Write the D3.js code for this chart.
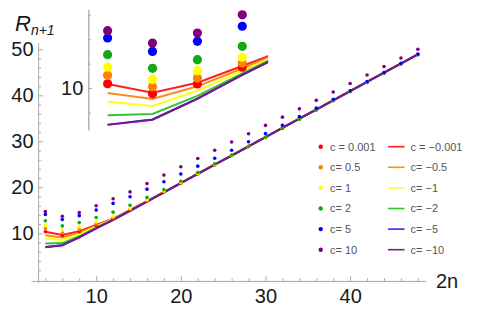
<!DOCTYPE html>
<html>
<head>
<meta charset="utf-8">
<script src="https://cdn.jsdelivr.net/npm/d3@7"></script>
<style>
  body { margin: 0; background: #fff; }
  svg { font-family: "Liberation Sans", Arial, sans-serif; }
  .axis path, .axis line { stroke: #a8a8a8; }
  .axis text { fill: #1a1a1a; font-size: 20px; }
  .legend text { fill: #555; font-size: 11px; }
</style>
</head>
<body>
<script>
// 2n values along the x axis
var twoN = [4, 6, 8, 10, 12, 14, 16, 18, 20, 22, 24, 26, 28, 30, 32, 34, 36, 38, 40, 42, 44, 46, 48];

// points, c > 0
var ptRed    = [10.35, 9.53, 10.33, 11.70, 13.15, 15.05, 17.0, 18.95, 20.9, 22.9, 24.85, 26.85, 28.85, 30.85, 32.85, 34.85, 36.85, 38.85, 40.85, 42.85, 44.85, 46.85, 48.85];
var ptOrange = [11.04, 10.11, 10.82, 12.05, 13.4, 15.25, 17.15, 19.05, 21.0, 22.95, 24.9, 26.9, 28.85, 30.85, 32.85, 34.85, 36.85, 38.85, 40.85, 42.85, 44.85, 46.85, 48.85];
var ptYellow = [11.72, 10.71, 11.42, 12.52, 13.7, 15.45, 17.3, 19.2, 21.1, 23.0, 24.95, 26.9, 28.85, 30.85, 32.85, 34.85, 36.85, 38.85, 40.85, 42.85, 44.85, 46.85, 48.85];
var ptGreen  = [12.73, 11.61, 12.32, 13.42, 14.6, 16.1, 17.8, 19.5, 21.3, 23.2, 25.1, 27.0, 28.9, 30.85, 32.8, 34.8, 36.8, 38.8, 40.8, 42.8, 44.8, 46.8, 48.8];
var ptBlue   = [14.10, 13.0, 13.83, 15.06, 16.5, 17.95, 19.6, 21.2, 22.9, 24.6, 26.3, 28.05, 29.9, 31.7, 33.5, 35.35, 37.2, 39.15, 41.0, 43.0, 44.95, 46.95, 48.95];
var ptPurple = [14.70, 13.69, 14.50, 16.0, 17.5, 19.0, 20.8, 22.65, 24.45, 26.25, 28.05, 29.85, 31.65, 33.45, 35.25, 37.05, 38.9, 40.7, 42.55, 44.4, 46.25, 48.1, 50.0];

// lines, c < 0
var lnRed    = [10.33, 9.62, 10.43, 11.8, 13.2, 15.06, 17.0, 18.98, 20.96, 22.95, 24.94, 26.93, 28.92, 30.92, 32.92, 34.92, 36.92, 38.92, 40.92, 42.92, 44.92, 46.92, 48.92];
var lnOrange = [9.59, 9.10, 10.14, 11.6, 13.12, 15.03, 16.97, 18.95, 20.94, 22.93, 24.92, 26.92, 28.91, 30.91, 32.91, 34.91, 36.91, 38.91, 40.91, 42.91, 44.91, 46.91, 48.91];
var lnYellow = [8.88, 8.53, 9.78, 11.42, 13.05, 15.0, 16.95, 18.93, 20.92, 22.92, 24.91, 26.91, 28.9, 30.9, 32.9, 34.9, 36.9, 38.9, 40.9, 42.9, 44.9, 46.9, 48.9];
var lnGreen  = [7.76, 7.87, 9.35, 11.2, 13.0, 14.95, 16.92, 18.91, 20.9, 22.9, 24.9, 26.9, 28.9, 30.9, 32.9, 34.9, 36.9, 38.9, 40.9, 42.9, 44.9, 46.9, 48.9];
var lnBlue   = [7.0, 7.42, 9.13, 11.08, 12.91, 14.9, 16.9, 18.9, 20.9, 22.9, 24.9, 26.9, 28.9, 30.9, 32.9, 34.9, 36.9, 38.9, 40.9, 42.9, 44.9, 46.9, 48.9];
var lnPurple = [6.98, 7.4, 9.12, 11.07, 12.9, 14.9, 16.9, 18.9, 20.9, 22.9, 24.9, 26.9, 28.9, 30.9, 32.9, 34.9, 36.9, 38.9, 40.9, 42.9, 44.9, 46.9, 48.9];

var pointLabels = ["c = 0.001", "c= 0.5", "c= 1", "c= 2", "c= 5", "c= 10"];
var lineLabels = ["c = \u22120.001", "c= \u22120.5", "c= \u22121", "c= \u22122", "c= \u22125", "c= \u221210"];

var xTicks = [10, 20, 30, 40];
var xMinor = [4, 6, 8, 12, 14, 16, 18, 22, 24, 26, 28, 32, 34, 36, 38, 42, 44, 46, 48];
var yTicks = [10, 20, 30, 40, 50];
var yMinor = [2, 4, 6, 8, 12, 14, 16, 18, 22, 24, 26, 28, 32, 34, 36, 38, 42, 44, 46, 48];
var insetTicks = [10];
var insetMinor = [8, 12, 14, 16];

var ptColors = ["#ff0000", "#ff7f00", "#ffff00", "#14a814", "#0000ff", "#800080"];
var lnColors = ["#ff2020", "#ff8a1a", "#ffff1a", "#33c433", "#2a2aff", "#7a1a8a"];

var points = [ptRed, ptOrange, ptYellow, ptGreen, ptBlue, ptPurple];
var lines = [lnRed, lnOrange, lnYellow, lnGreen, lnBlue, lnPurple];

var width = 479, height = 313;

var svg = d3.select("body").append("svg")
  .attr("width", width)
  .attr("height", height);

// main plot
var x = d3.scaleLinear().domain([2.3, 48.9]).range([31, 425.5]);
var y = d3.scaleLinear().domain([-0.35, 51.3]).range([280.9, 43.3]);
var yAxisAt = x(3.2), xAxisAt = y(-0.35);

svg.append("g").attr("class", "axis")
  .attr("transform", "translate(0," + xAxisAt + ")")
  .call(d3.axisBottom(x).tickValues(xTicks).tickSizeInner(-4.5).tickSizeOuter(0).tickPadding(8));
svg.append("g").attr("class", "axis")
  .attr("transform", "translate(0," + xAxisAt + ")")
  .call(d3.axisBottom(x).tickValues(xMinor).tickSizeInner(-2.5).tickSizeOuter(0).tickFormat(""))
  .select(".domain").remove();

svg.append("g").attr("class", "axis")
  .attr("transform", "translate(" + yAxisAt + ",0)")
  .call(d3.axisLeft(y).tickValues(yTicks).tickSizeInner(-4.5).tickSizeOuter(0).tickPadding(5))
  .select(".domain").attr("d", "M0," + y(-0.8) + "V" + y(51.3));
svg.append("g").attr("class", "axis")
  .attr("transform", "translate(" + yAxisAt + ",0)")
  .call(d3.axisLeft(y).tickValues(yMinor).tickSizeInner(-2.5).tickSizeOuter(0).tickFormat(""))
  .select(".domain").remove();

svg.selectAll(".axis text").attr("font-family", "Liberation Sans, Arial, sans-serif");

svg.append("text")
  .attr("x", 436).attr("y", 287.5)
  .attr("font-size", 20).attr("fill", "#1a1a1a")
  .text("2n");

var ylab = svg.append("text")
  .attr("x", 15).attr("y", 30.5)
  .attr("font-size", 22).attr("font-style", "italic").attr("fill", "#1a1a1a");
ylab.append("tspan").text("R");
ylab.append("tspan").attr("font-size", 14).attr("dy", 4).text("n+1");

var line = d3.line()
  .x(function(d, i) { return x(twoN[i]); })
  .y(function(d) { return y(d); });

svg.append("g").selectAll("path")
  .data(lines)
  .enter().append("path")
  .attr("d", line)
  .attr("fill", "none")
  .attr("stroke", function(d, i) { return lnColors[i]; })
  .attr("stroke-width", 2);

// red first, purple last, so the later ones sit on top
points.forEach(function(series, k) {
  svg.append("g").selectAll("circle")
    .data(series)
    .enter().append("circle")
    .attr("cx", function(d, i) { return x(twoN[i]); })
    .attr("cy", function(d) { return y(d); })
    .attr("r", 1.8)
    .attr("fill", ptColors[k]);
});

// inset
var ix = d3.scaleLinear().domain([3.14, 11.15]).range([88.3, 268.1]);
var iy = d3.scaleLinear().domain([6.56, 16.45]).range([130, 9.3]);

svg.append("clipPath").attr("id", "insetclip")
  .append("rect").attr("x", ix(3.14)).attr("y", 0).attr("width", ix(11.15) - ix(3.14)).attr("height", 140);

var iaxis = svg.append("g").attr("class", "axis")
  .attr("transform", "translate(" + ix(3.14) + ",0)")
  .call(d3.axisLeft(iy).tickValues(insetTicks).tickSizeInner(-4).tickSizeOuter(0).tickPadding(5));
iaxis.selectAll("text").attr("font-size", 14).attr("fill", "#333");
iaxis.select(".domain").attr("stroke-width", 1.3);
svg.append("g").attr("class", "axis")
  .attr("transform", "translate(" + ix(3.14) + ",0)")
  .call(d3.axisLeft(iy).tickValues(insetMinor).tickSizeInner(-2.5).tickSizeOuter(0).tickFormat(""))
  .select(".domain").remove();

var iline = d3.line()
  .x(function(d, i) { return ix(twoN[i]); })
  .y(function(d) { return iy(d); });

svg.append("g").attr("clip-path", "url(#insetclip)")
  .selectAll("path")
  .data(lines)
  .enter().append("path")
  .attr("d", iline)
  .attr("fill", "none")
  .attr("stroke", function(d, i) { return lnColors[i]; })
  .attr("stroke-width", 2);

points.forEach(function(series, k) {
  svg.append("g").selectAll("circle")
    .data(series.filter(function(d, i) { return twoN[i] <= 10; }))
    .enter().append("circle")
    .attr("cx", function(d, i) { return ix(twoN[i]); })
    .attr("cy", function(d) { return iy(d); })
    .attr("r", 4.6)
    .attr("fill", ptColors[k]);
});

// legend
var legend = svg.append("g").attr("class", "legend");
var rowY = d3.scaleLinear().domain([0, 5]).range([146.7, 249.7]);

pointLabels.forEach(function(t, i) {
  legend.append("circle").attr("cx", 320.7).attr("cy", rowY(i)).attr("r", 2.2).attr("fill", ptColors[i]);
  legend.append("text").attr("x", 330).attr("y", rowY(i)).attr("dy", "0.36em").text(t);
});
lineLabels.forEach(function(t, i) {
  legend.append("line").attr("x1", 388).attr("x2", 404.5).attr("y1", rowY(i)).attr("y2", rowY(i))
    .attr("stroke", lnColors[i]).attr("stroke-width", 1.6);
  legend.append("text").attr("x", 410.5).attr("y", rowY(i)).attr("dy", "0.36em").text(t);
});
</script>
</body>
</html>
